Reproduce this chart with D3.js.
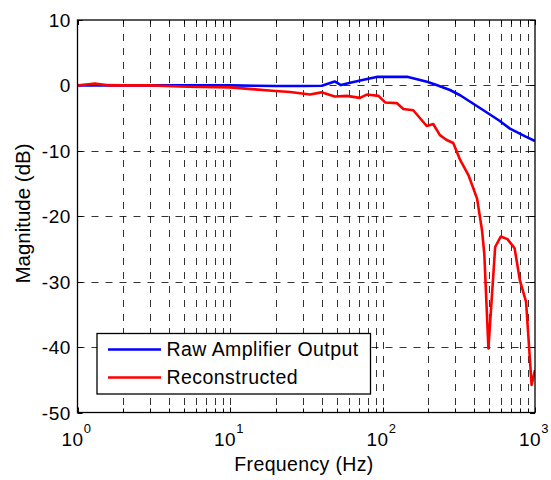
<!DOCTYPE html>
<html><head><meta charset="utf-8">
<script src="https://cdn.jsdelivr.net/npm/d3@7/dist/d3.min.js"></script>
<style>body{margin:0;background:#fff;} text{font-family:"Liberation Sans",Arial,sans-serif;fill:#000;}</style>
</head><body>
<svg id="c" width="551" height="480"></svg>
<script>
const rawFreq = [1, 1.3, 2, 5, 10, 15, 20, 30, 40, 48.6, 53.4, 61.4, 76.5, 91.5, 147, 196, 226, 277, 323, 459, 585, 685, 863, 1000];
const rawVals = [0, 0.05, 0, 0, 0, -0.05, -0.1, -0.1, -0.05, 0.6, 0.05, 0.4, 0.9, 1.3, 1.3, 0.57, 0.05, -0.7, -1.5, -3.8, -5.4, -6.6, -7.8, -8.5];
const recFreq = [1, 1.3, 1.6, 3, 5.3, 10, 14.6, 19.8, 24.8, 33.4, 39.8, 48.6, 58.3, 71.2, 78.8, 94.1, 104, 124, 137, 159, 195, 215, 238, 262, 291, 323, 366, 417, 449, 465, 495, 548, 596, 660, 735, 796, 874, 950, 1000];
const recVals = [0, 0.3, 0, 0, -0.2, -0.3, -0.6, -0.85, -1.0, -1.4, -1.06, -1.7, -1.6, -1.9, -1.4, -1.6, -2.6, -2.7, -3.6, -3.8, -6.2, -5.9, -7.6, -8.3, -8.8, -11.4, -13.7, -17.3, -22.1, -25.7, -40.2, -24.7, -23.1, -23.5, -24.9, -29.8, -33.1, -45.8, -43.5];
const yTicks = [10, 0, -10, -20, -30, -40, -50];
const xMajor = [1, 10, 100, 1000];
const xExp = ["0", "1", "2", "3"];
const seriesNames = ["Raw Amplifier Output", "Reconstructed"];
const seriesColors = ["#0000ff", "#ff0000"];

const L = 77.5, R = 535, T = 20, B = 412.5;
const svg = d3.select("#c");
const x = d3.scaleLog().domain([1, 1000]).range([L, R]);
const y = d3.scaleLinear().domain([-50, 10]).range([B, T]);

const minor = [];
for (let d = 1; d < 1000; d *= 10) for (let k = 2; k <= 9; k++) minor.push(d * k);
const allX = xMajor.concat(minor);

// grid
const g = svg.append("g");
g.selectAll("line.vx").data(allX.filter(v => v > 1 && v < 1000)).enter().append("line")
  .attr("x1", d => Math.round(x(d)) + 0.5).attr("x2", d => Math.round(x(d)) + 0.5)
  .attr("y1", T).attr("y2", B)
  .attr("stroke", "#000").attr("stroke-opacity", 0.8).attr("stroke-width", 1).attr("stroke-dasharray", "7,7");
g.selectAll("line.hy").data(yTicks.filter(v => v > -50 && v < 10)).enter().append("line")
  .attr("y1", d => Math.round(y(d)) + 0.5).attr("y2", d => Math.round(y(d)) + 0.5)
  .attr("x1", L).attr("x2", R)
  .attr("stroke", "#000").attr("stroke-opacity", 0.8).attr("stroke-width", 1).attr("stroke-dasharray", "7,7");

// ticks inside
const tk = svg.append("g").attr("stroke", "#000").attr("stroke-width", 1);
allX.forEach(v => {
  const px = Math.round(x(v)) + 0.5;
  const len = xMajor.includes(v) ? 5 : 4;
  tk.append("line").attr("x1", px).attr("x2", px).attr("y1", B).attr("y2", B - len);
  tk.append("line").attr("x1", px).attr("x2", px).attr("y1", T).attr("y2", T + len);
});
yTicks.forEach(v => {
  const py = Math.round(y(v)) + 0.5;
  tk.append("line").attr("x1", L).attr("x2", L + 5).attr("y1", py).attr("y2", py);
  tk.append("line").attr("x1", R).attr("x2", R - 5).attr("y1", py).attr("y2", py);
});

// lines
const line = d3.line().x(d => x(d[0])).y(d => y(d[1]));
const raw = rawFreq.map((f, i) => [f, rawVals[i]]);
const rec = recFreq.map((f, i) => [f, recVals[i]]);
svg.append("clipPath").attr("id", "cp").append("rect").attr("x", L).attr("y", T).attr("width", R - L).attr("height", B - T);
svg.append("path").attr("d", line(raw)).attr("fill", "none").attr("stroke", seriesColors[0]).attr("stroke-width", 2.6).attr("stroke-linejoin", "round").attr("clip-path", "url(#cp)");
svg.append("path").attr("d", line(rec)).attr("fill", "none").attr("stroke", seriesColors[1]).attr("stroke-width", 2.6).attr("stroke-linejoin", "round").attr("clip-path", "url(#cp)");

// box
svg.append("rect").attr("x", L).attr("y", T).attr("width", R - L).attr("height", B - T)
  .attr("fill", "none").attr("stroke", "#000").attr("stroke-width", 1.3);

// y tick labels
svg.selectAll("text.yl").data(yTicks).enter().append("text")
  .attr("x", 71).attr("y", d => y(d) + 7).attr("text-anchor", "end")
  .attr("font-size", 19).attr("letter-spacing", 0.6).text(d => d);

// x tick labels
xMajor.forEach((v, i) => {
  const t = svg.append("text").attr("x", x(v) - 1).attr("y", 446).attr("text-anchor", "middle").attr("font-size", 19).attr("letter-spacing", 0.6);
  t.append("tspan").text("10");
  t.append("tspan").attr("dy", -13).attr("font-size", 13).text(xExp[i]);
});

// axis labels
svg.append("text").attr("x", 304).attr("y", 471).attr("text-anchor", "middle").attr("font-size", 19.5).attr("letter-spacing", 0.35).text("Frequency (Hz)");
svg.append("text").attr("transform", "translate(29.5,213.5) rotate(-90)").attr("text-anchor", "middle").attr("font-size", 20.5).text("Magnitude (dB)");

// legend
const lg = svg.append("g");
lg.append("rect").attr("x", 97).attr("y", 333.5).attr("width", 273.5).attr("height", 60.5).attr("fill", "#fff").attr("stroke", "#000").attr("stroke-width", 1.3);
seriesNames.forEach((n, i) => {
  const yy = 349.5 + i * 28;
  lg.append("line").attr("x1", 108).attr("x2", 161).attr("y1", yy).attr("y2", yy).attr("stroke", seriesColors[i]).attr("stroke-width", 2.6);
  lg.append("text").attr("x", 166.5).attr("y", yy + 6.5).attr("font-size", 19.5).attr("letter-spacing", 0.45).text(n);
});
</script>
</body></html>
